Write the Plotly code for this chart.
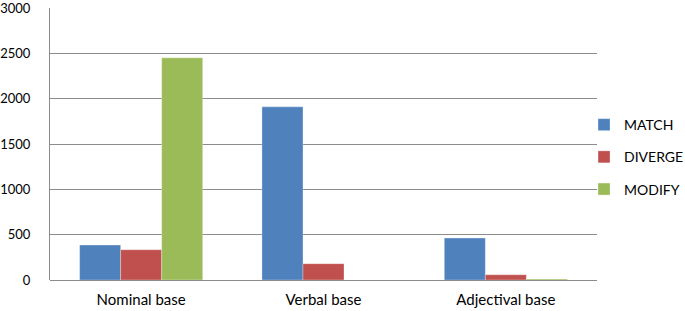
import plotly.graph_objects as go

categories = ["Nominal base", "Verbal base", "Adjectival base"]
match = [385, 1910, 463]
diverge = [334, 180, 58]
modify = [2450, 0, 10]
y_ticks = [0, 500, 1000, 1500, 2000, 2500, 3000]

colors = {"MATCH": "#4F81BD", "DIVERGE": "#C0504D", "MODIFY": "#9BBB59"}

fig = go.Figure()
for name, vals in [("MATCH", match), ("DIVERGE", diverge), ("MODIFY", modify)]:
    fig.add_trace(go.Bar(
        x=categories, y=vals, name=name,
        marker=dict(color=colors[name], line=dict(color="rgba(255,255,255,0.6)", width=0.5)),
        legendgroup=name,
    ))

family = "Lato, Carlito, 'Open Sans', sans-serif"
font = dict(family=family, size=14, color="#000000")
xfont = dict(family=family, size=15, color="#000000")
yfont = dict(family=family, size=13, color="#000000")

fig.update_layout(
    width=685, height=311,
    margin=dict(l=50, r=88, t=8, b=31, autoexpand=False),
    paper_bgcolor="white", plot_bgcolor="white",
    barmode="group", bargap=0.325, bargroupgap=0,
    font=font,
    showlegend=True,
    legend=dict(xref="container", yref="container", x=0.8526, xanchor="left",
                y=0.495, yanchor="middle",
                tracegroupgap=11, font=font, itemwidth=30,
                bgcolor="rgba(0,0,0,0)"),
    xaxis=dict(showgrid=False, ticks="", showline=False, tickfont=xfont,
               zeroline=False, automargin=False, ticklabelstandoff=9),
    yaxis=dict(range=[0, 3000], tickvals=y_ticks, showgrid=True,
               gridcolor="#8C8C8C", gridwidth=1, showline=True,
               linecolor="#8C8C8C", linewidth=1, ticks="", ticklen=0,
               zeroline=True, zerolinecolor="#8C8C8C", zerolinewidth=1,
               tickfont=yfont, ticklabelstandoff=16, automargin=False,
               ticklabeloverflow="allow"),
)

fig.write_html("out.html", config={"displayModeBar": False},
               post_script="document.body.style.margin='0';document.body.style.padding='0';")
